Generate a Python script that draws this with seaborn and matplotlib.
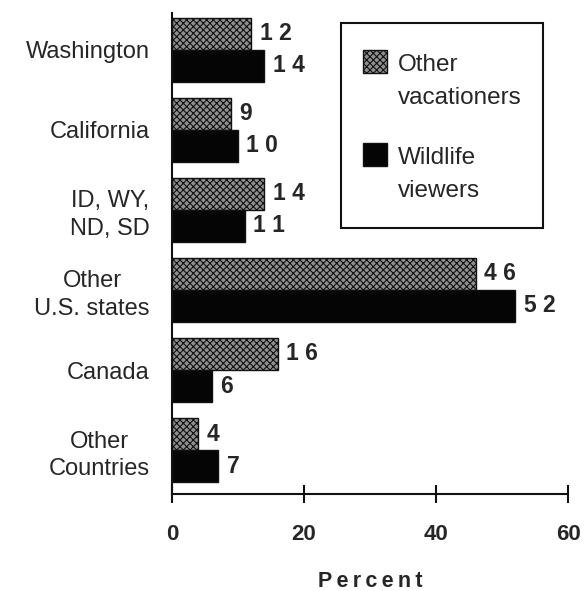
import matplotlib
matplotlib.use("Agg")
import matplotlib.pyplot as plt
import pandas as pd
import seaborn as sns
from matplotlib.patches import Rectangle

categories = ["Washington", "California", "ID, WY,\nND, SD", "Other\nU.S. states", "Canada", "Other\nCountries"]
groups = ["Other vacationers", "Wildlife viewers"]
legend_labels = ["Other\nvacationers", "Wildlife\nviewers"]
other_vacationers = [12, 9, 14, 46, 16, 4]
wildlife_viewers = [14, 10, 11, 52, 6, 7]
x_ticks = [0, 20, 40, 60]

df = pd.DataFrame({
    "region": categories * 2,
    "group": [groups[0]] * len(categories) + [groups[1]] * len(categories),
    "percent": other_vacationers + wildlife_viewers,
})

sns.set_style("white")
plt.rcParams["font.family"] = ["Liberation Sans", "DejaVu Sans"]
plt.rcParams["hatch.color"] = "#1a1a1a"
plt.rcParams["hatch.linewidth"] = 0.8

fig = plt.figure(figsize=(5.86, 5.91), dpi=100)
ax = fig.add_axes([0.2935, 0.164, 0.676, 0.814])

colors = {groups[0]: "#8f8f8f", groups[1]: "#050505"}
sns.barplot(data=df, y="region", x="percent", hue="group", hue_order=groups,
            palette=colors, orient="h", width=0.8, legend=False, ax=ax,
            saturation=1, edgecolor="#111111", linewidth=1.0)

for cont, g in zip(ax.containers, groups):
    if g == groups[0]:
        for p in cont:
            p.set_hatch("xxxxx")
    ax.bar_label(cont, labels=[" ".join(str(int(v))) for v in cont.datavalues],
                 padding=6, fontsize=16.5, fontweight="bold")

ax.set_xlim(0, 60)
ax.set_ylim(5.55, -0.46)
ax.set_xticks(x_ticks)
ax.set_xticklabels([str(t) for t in x_ticks], fontsize=16, fontweight="bold")
ax.tick_params(axis="x", bottom=True, direction="inout", length=13, width=1.5,
               pad=15, color="#111111")
ax.tick_params(axis="y", left=False, length=0, pad=16, labelsize=17)
for lbl in ax.get_yticklabels():
    lbl.set_multialignment("center")
    lbl.set_linespacing(1.3)
ax.set_ylabel("")
ax.set_xlabel("P\u2009e\u2009r\u2009c\u2009e\u2009n\u2009t", fontsize=15.5,
              fontweight="bold", labelpad=19)

sns.despine(ax=ax)
for side in ["left", "bottom"]:
    ax.spines[side].set_linewidth(1.5)
    ax.spines[side].set_color("#111111")

# legend box drawn in axes coordinates
def px(x, y):
    return (x - 172) / 396, 1 - (y - 13) / 481

x0, y0 = px(341, 228)
x1, y1 = px(543, 23)
ax.add_patch(Rectangle((x0, y0), x1 - x0, y1 - y0, transform=ax.transAxes,
                       facecolor="white", edgecolor="#111111", linewidth=1.5,
                       zorder=5, clip_on=False))
for i, (g, lab) in enumerate(zip(groups, legend_labels)):
    top = 50 + i * 93
    hx0, hy0 = px(363, top + 23)
    hx1, hy1 = px(387, top)
    ax.add_patch(Rectangle((hx0, hy0), hx1 - hx0, hy1 - hy0, transform=ax.transAxes,
                           facecolor=colors[g], edgecolor="#111111", linewidth=1.0,
                           hatch="xxxxx" if i == 0 else None, zorder=6, clip_on=False))
    tx, ty = px(398, top + 4)
    ax.text(tx, ty, lab, transform=ax.transAxes, fontsize=17.5, va="top", ha="left",
            linespacing=1.65, zorder=7)

fig.savefig("out.png", dpi=100)
